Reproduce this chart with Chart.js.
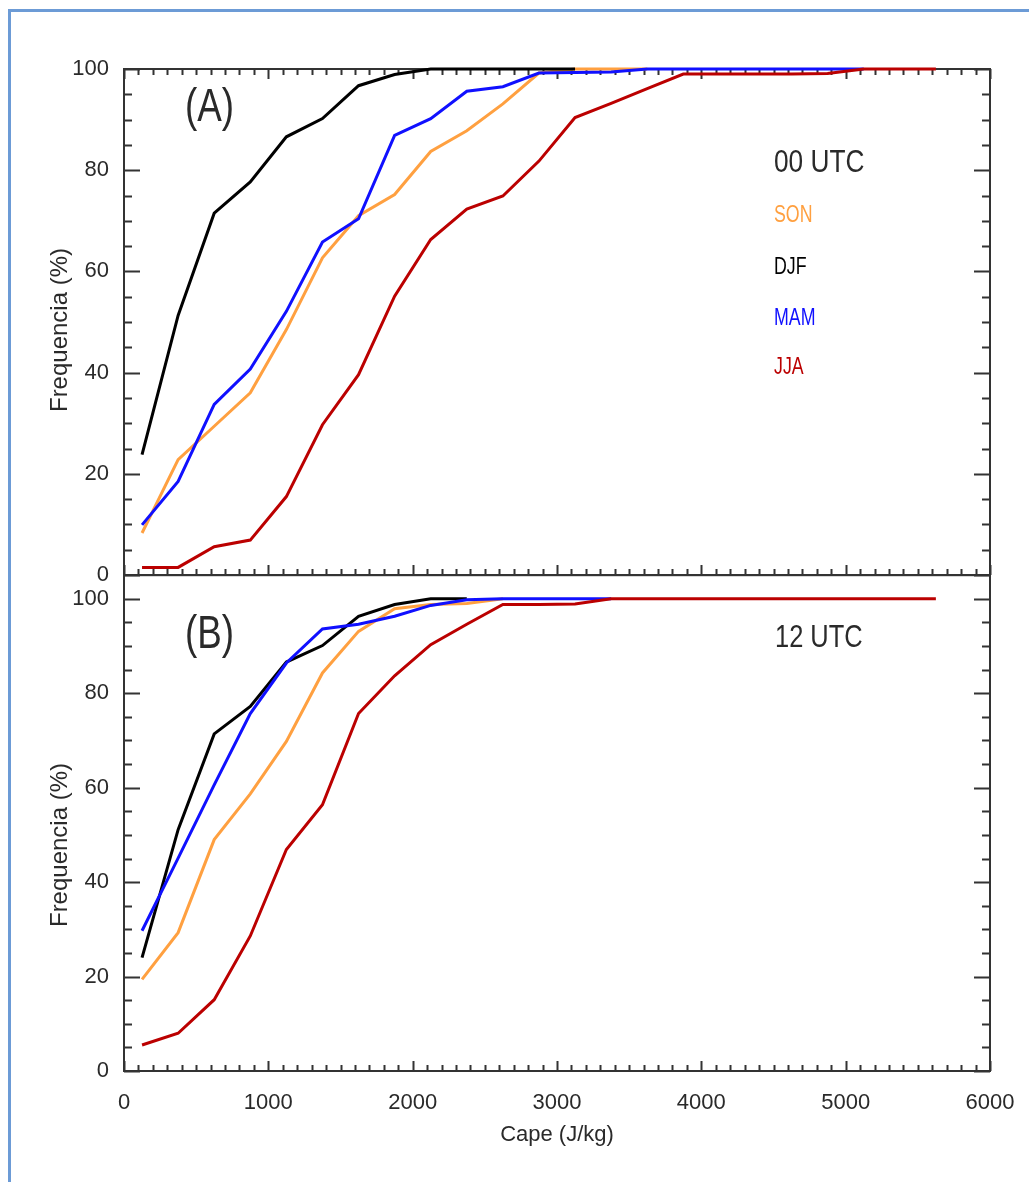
<!DOCTYPE html>
<html>
<head>
<meta charset="utf-8">
<script src="https://cdn.jsdelivr.net/npm/chart.js@4.4.1/dist/chart.umd.min.js"></script>
<style>
  html, body { margin: 0; background: #fff; }
  #page { position: relative; width: 1029px; height: 1182px; overflow: hidden; }
  #edge { position: absolute; left: 8px; top: 9px; width: 1200px; height: 1300px;
          border-left: 3px solid #6c9bd6; border-top: 3px solid #6c9bd6; }
  canvas { position: absolute; left: 0; }
  #panelA { top: 0; }
  #panelB { top: 555px; }
</style>
</head>
<body>
<div id="page">
  <div id="edge"></div>
  <canvas id="panelA" width="1029" height="600"></canvas>
  <canvas id="panelB" width="1029" height="627"></canvas>
</div>
<script>
// CAPE bin centres (J/kg)
const capeBins = [125, 375, 625, 875, 1125, 1375, 1625, 1875, 2125, 2375, 2625, 2875,
                  3125, 3375, 3625, 3875, 4125, 4375, 4625, 4875, 5125, 5375, 5625];
const xTickValues = [0, 1000, 2000, 3000, 4000, 5000, 6000];
const yTickValues = [0, 20, 40, 60, 80, 100];

const seasons = ["SON", "DJF", "MAM", "JJA"];
const seasonColors = ["#ffa040", "#000000", "#1010ff", "#bb0000"];

// cumulative frequency (%), 00 UTC soundings
const son00 = [8.3, 22.8, 29.4, 36.0, 48.5, 62.7, 71.0, 75.2, 83.7, 87.8, 93.1, 99.2, 100, 100, 100];
const djf00 = [23.8, 51.3, 71.5, 77.7, 86.6, 90.2, 96.7, 98.9, 100, 100, 100, 100, 100];
const mam00 = [9.9, 18.5, 33.7, 40.7, 52.1, 65.8, 70.4, 86.9, 90.2, 95.6, 96.5, 99.2, 99.3, 99.4,
               100, 100, 100, 100, 100, 100, 100];
const jja00 = [1.5, 1.5, 5.6, 6.9, 15.5, 29.7, 39.6, 55.1, 66.3, 72.3, 74.9, 81.8, 90.4, 93.2,
               96.1, 99.0, 99.0, 99.0, 99.0, 99.1, 100, 100, 100];

// cumulative frequency (%), 12 UTC soundings
const son12 = [19.4, 29.3, 49.0, 58.7, 69.8, 84.3, 93.1, 97.9, 98.8, 99.0, 100];
const djf12 = [24.0, 51.1, 71.4, 77.2, 86.6, 90.1, 96.3, 98.8, 100, 100];
const mam12 = [29.7, 45.1, 60.6, 75.7, 86.4, 93.6, 94.6, 96.3, 98.6, 99.8, 100, 100, 100, 100];
const jja12 = [5.5, 8.0, 15.1, 28.6, 46.9, 56.4, 75.7, 83.7, 90.3, 94.6, 98.8, 98.8, 98.9,
               100, 100, 100, 100, 100, 100, 100, 100, 100, 100];

const FONT = "'Liberation Sans Narrow', 'Liberation Sans', Arial, sans-serif";
const INK = "#2a2a2a";
Chart.defaults.font.family = FONT;
Chart.defaults.color = INK;

// box with inward ticks on the sides asked for
const framePlugin = {
  id: "frame",
  beforeDatasetsDraw(chart, args, opts) {
    const { ctx, chartArea: a, scales: { x, y } } = chart;
    ctx.save();
    ctx.strokeStyle = "#333";
    ctx.lineWidth = 2;
    ctx.strokeRect(a.left, a.top, a.right - a.left, a.bottom - a.top);
    ctx.beginPath();
    for (let v = 0; v <= 100; v += 5) {
      const py = Math.round(y.getPixelForValue(v)) + 0.5;
      const len = v % 20 === 0 ? 16 : 8;
      ctx.moveTo(a.left, py); ctx.lineTo(a.left + len, py);
      ctx.moveTo(a.right, py); ctx.lineTo(a.right - len, py);
    }
    for (let v = 0; v <= 6000; v += 100) {
      const px = Math.round(x.getPixelForValue(v)) + 0.5;
      const len = v % 1000 === 0 ? 10 : 6;
      if (opts.bottom) { ctx.moveTo(px, a.bottom); ctx.lineTo(px, a.bottom - len); }
      if (opts.top) { ctx.moveTo(px, a.top); ctx.lineTo(px, a.top + len); }
    }
    ctx.stroke();
    ctx.restore();
  }
};

function drawNote(ctx, t) {
  ctx.save();
  ctx.translate(t.x, t.y);
  if (t.rotate) ctx.rotate(t.rotate);
  ctx.scale(t.sx || 1, 1);
  ctx.font = t.size + "px " + FONT;
  ctx.fillStyle = t.color || INK;
  ctx.textAlign = t.align || "left";
  ctx.textBaseline = t.baseline || "alphabetic";
  ctx.fillText(t.text, 0, 0);
  ctx.restore();
}

const notesPlugin = {
  id: "notes",
  afterDraw(chart, args, opts) {
    (opts.items || []).forEach(t => drawNote(chart.ctx, t));
  }
};

function makeDatasets(series) {
  return series.map((vals, i) => ({
    label: seasons[i],
    data: vals.map((v, k) => ({ x: capeBins[k], y: v })),
    borderColor: seasonColors[i],
    borderWidth: 3,
    pointRadius: 0,
    tension: 0,
    clip: false,
    order: 3 - i
  }));
}

function yTitle(y) {
  return { text: "Frequencia (%)", x: 60, y: y, size: 24, rotate: -Math.PI / 2,
           align: "center", baseline: "middle" };
}

function panelOptions(yMax, showX, frame, items) {
  const x = {
    type: "linear", min: 0, max: 6000, display: showX,
    afterBuildTicks: s => { s.ticks = xTickValues.map(v => ({ value: v })); },
    grid: { display: false }, border: { display: false },
    ticks: { padding: 11, maxRotation: 0, autoSkip: false, font: { size: 22 }, callback: v => String(v) },
    title: { display: true, text: "Cape (J/kg)", font: { size: 22 }, padding: { top: 0, bottom: 34 } }
  };
  if (showX) x.afterFit = s => { s.height = 111; };
  return {
    responsive: false,
    animation: false,
    events: [],
    layout: { padding: showX ? { top: 20, right: 39, bottom: 0, left: 0 }
                             : { top: 69, right: 39, bottom: 25, left: 0 } },
    plugins: { legend: { display: false }, tooltip: { enabled: false }, frame: frame, notes: { items: items } },
    scales: {
      x: x,
      y: {
        min: 0, max: yMax,
        afterBuildTicks: s => { s.ticks = yTickValues.map(v => ({ value: v })); },
        afterFit: s => { s.width = 124; },
        grid: { display: false }, border: { display: false },
        ticks: { padding: 7, font: { size: 22 }, callback: v => String(v) }
      }
    }
  };
}

const legendItems = seasons.map((s, i) => ({
  text: s, x: 774, y: [222, 274, 325, 374][i], size: 24, sx: 0.74, color: seasonColors[i]
}));

new Chart(document.getElementById("panelA"), {
  type: "line",
  data: { datasets: makeDatasets([son00, djf00, mam00, jja00]) },
  options: panelOptions(100, false, { top: true, bottom: true }, [
    { text: "(A)", x: 185, y: 121, size: 46, sx: 0.8 },
    { text: "00 UTC", x: 774, y: 172, size: 32, sx: 0.82 },
    ...legendItems,
    yTitle(330)
  ]),
  plugins: [framePlugin, notesPlugin]
});

new Chart(document.getElementById("panelB"), {
  type: "line",
  data: { datasets: makeDatasets([son12, djf12, mam12, jja12]) },
  options: panelOptions(105, true, { top: false, bottom: true }, [
    { text: "(B)", x: 185, y: 93, size: 46, sx: 0.8 },
    { text: "12 UTC", x: 775, y: 92, size: 31, sx: 0.82 },
    yTitle(290)
  ]),
  plugins: [framePlugin, notesPlugin]
});
</script>
</body>
</html>
